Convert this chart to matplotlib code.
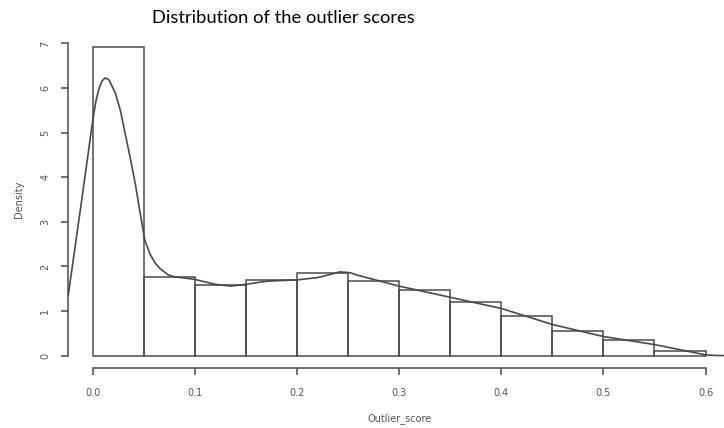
import matplotlib.pyplot as plt
import numpy as np

# histogram of outlier scores (bin width 0.05)
bin_left = [0.0, 0.05, 0.10, 0.15, 0.20, 0.25, 0.30, 0.35, 0.40, 0.45, 0.50, 0.55]
bin_height = [6.91, 1.76, 1.59, 1.69, 1.85, 1.68, 1.47, 1.21, 0.88, 0.55, 0.36, 0.10]

# kernel density curve
dens_x = [-0.024, -0.012, 0.0, 0.003, 0.006, 0.009, 0.0124, 0.016, 0.0222, 0.027, 0.032,
          0.037, 0.0418, 0.046, 0.051, 0.056, 0.061, 0.066, 0.074, 0.08,
          0.09, 0.10, 0.12, 0.135, 0.15, 0.17, 0.20, 0.22, 0.232, 0.242, 0.252, 0.26, 0.27,
          0.30, 0.35, 0.40, 0.45, 0.50, 0.55, 0.60, 0.61, 0.63]
dens_y = [1.36, 3.30, 5.28, 5.70, 5.98, 6.16, 6.23, 6.18, 5.88, 5.50, 4.95,
          4.40, 3.83, 3.25, 2.59, 2.28, 2.08, 1.95, 1.81, 1.77,
          1.74, 1.71, 1.60, 1.56, 1.60, 1.67, 1.70, 1.75, 1.82, 1.88, 1.86, 1.80, 1.74,
          1.56, 1.31, 1.06, 0.70, 0.43, 0.25, 0.02, 0.005, 0.0]

x_ticks = [0.0, 0.1, 0.2, 0.3, 0.4, 0.5, 0.6]
x_labels = ["0.0", "0.1", "0.2", "0.3", "0.4", "0.5", "0.6"]
y_ticks = [0, 1, 2, 3, 4, 5, 6, 7]

line_col = '#4a4a4a'
text_col = '#555555'

fig = plt.figure(figsize=(7.24, 4.28), dpi=100)
ax = fig.add_axes([0.0943, 0.1397, 0.914, 0.788])

ax.bar(bin_left, bin_height, width=0.05, align='edge', fill=False,
       edgecolor=line_col, linewidth=1.1)
ax.plot(dens_x, dens_y, color=line_col, linewidth=1.2, clip_on=True)

ax.set_xlim(-0.024, 0.624)
ax.set_ylim(-0.28, 7.28)

for s in ['top', 'right']:
    ax.spines[s].set_visible(False)
ax.spines['left'].set_bounds(0, 7)
ax.spines['bottom'].set_bounds(0, 0.6)
for s in ['left', 'bottom']:
    ax.spines[s].set_color(line_col)
    ax.spines[s].set_linewidth(1.1)

ax.set_xticks(x_ticks)
ax.set_xticklabels(x_labels)
ax.set_yticks(y_ticks)
ax.set_yticklabels([str(v) for v in y_ticks], rotation=90, va='center')
ax.tick_params(axis='both', direction='out', length=5, width=1.1, color=line_col,
               labelcolor=text_col, labelsize=7)
ax.tick_params(axis='x', pad=9)
ax.tick_params(axis='y', pad=8)

ax.set_xlabel('Outlier_score', fontsize=7, color=text_col, labelpad=11)
ax.set_ylabel('Density', fontsize=7, color=text_col, labelpad=12)

fig.text(152 / 724, 0.947, 'Distribution of the outlier scores', fontsize=13.2,
         family='Lato', color='black', va='baseline', ha='left')

fig.savefig('out.png', dpi=100)
